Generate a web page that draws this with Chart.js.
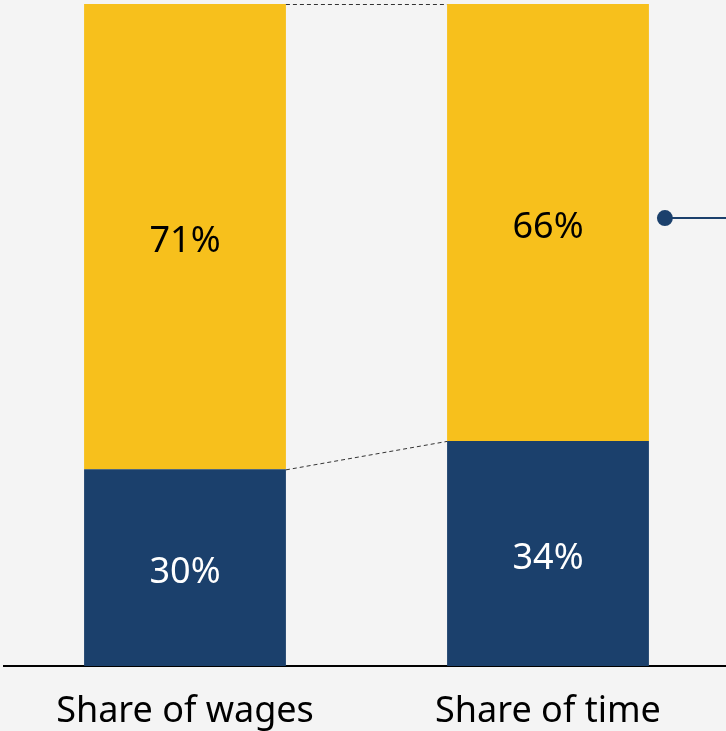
<!DOCTYPE html>
<html>
<head>
<meta charset="utf-8">
<script src="https://cdn.jsdelivr.net/npm/chart.js@4/dist/chart.umd.min.js"></script>
<style>
  html, body { margin: 0; padding: 0; background: #f4f4f4; overflow: hidden; }
  #wrap { position: relative; width: 730px; height: 731px; }
</style>
</head>
<body>
<div id="wrap"><canvas id="grafico" width="730" height="731"></canvas></div>
<script>
// categorias e percentuais
const categorias = ['Share of wages', 'Share of time'];
const parteAzul = [30, 34];
const parteAmarela = [71, 66];

const AZUL = '#1b406c';
const AMARELO = '#f7c01c';
const FONTE = '"Noto Sans", "Open Sans", sans-serif';

// cada barra vai até o topo (100% empilhado)
const totais = parteAzul.map((v, i) => v + parteAmarela[i]);
const azulNorm = parteAzul.map((v, i) => v / totais[i] * 100);
const amareloNorm = parteAmarela.map((v, i) => v / totais[i] * 100);

// rótulos dentro dos segmentos
const rotulosPlugin = {
    id: 'rotulos',
    afterDatasetsDraw(chart) {
        const ctx = chart.ctx;
        const brutos = [parteAzul, parteAmarela];
        const cores = ['#ffffff', '#000000'];
        ctx.save();
        ctx.font = '36px ' + FONTE;
        ctx.textAlign = 'center';
        ctx.textBaseline = 'middle';
        chart.data.datasets.forEach((ds, d) => {
            chart.getDatasetMeta(d).data.forEach((bar, i) => {
                ctx.fillStyle = cores[d];
                ctx.fillText(brutos[d][i] + '%', bar.x, (bar.y + bar.base) / 2 + 5);
            });
        });
        ctx.restore();
    }
};

// linhas tracejadas entre as barras e o marcador à direita
const conectoresPlugin = {
    id: 'conectores',
    afterDatasetsDraw(chart) {
        const ctx = chart.ctx;
        const azul = chart.getDatasetMeta(0).data;
        const amarelo = chart.getDatasetMeta(1).data;
        ctx.save();
        ctx.strokeStyle = '#333333';
        ctx.lineWidth = 1;
        ctx.setLineDash([4, 3]);
        [amarelo, azul].forEach(bars => {
            const a = bars[0], b = bars[1];
            ctx.beginPath();
            ctx.moveTo(a.x + a.width / 2, a.y + 0.5);
            ctx.lineTo(b.x - b.width / 2, b.y + 0.5);
            ctx.stroke();
        });
        ctx.setLineDash([]);

        const seg = amarelo[1];
        const mx = seg.x + seg.width / 2 + 16;
        const my = seg.y + (seg.base - seg.y) * 0.49;
        ctx.strokeStyle = AZUL;
        ctx.lineWidth = 2;
        ctx.beginPath();
        ctx.moveTo(mx, my);
        ctx.lineTo(chart.width, my);
        ctx.stroke();
        ctx.fillStyle = AZUL;
        ctx.beginPath();
        ctx.arc(mx, my, 8, 0, Math.PI * 2);
        ctx.fill();
        ctx.restore();
    }
};

new Chart(document.getElementById('grafico'), {
    type: 'bar',
    data: {
        labels: categorias,
        datasets: [
            { label: 'Azul', data: azulNorm, backgroundColor: AZUL, borderWidth: 0 },
            { label: 'Amarelo', data: amareloNorm, backgroundColor: AMARELO, borderWidth: 0 }
        ]
    },
    options: {
        responsive: false,
        animation: false,
        layout: { padding: { left: 3.5, right: 0.5, top: 4, bottom: 0 } },
        plugins: { legend: { display: false }, tooltip: { enabled: false } },
        datasets: { bar: { categoryPercentage: 1, barPercentage: 0.556 } },
        scales: {
            x: {
                stacked: true,
                grid: { display: false, drawTicks: false },
                border: { display: true, color: '#000000', width: 2 },
                ticks: { color: '#000000', font: { family: FONTE, size: 36 }, padding: 24 },
                afterFit(scale) { scale.height = 65; }
            },
            y: {
                stacked: true,
                display: false,
                min: 0,
                max: 100
            }
        }
    },
    plugins: [rotulosPlugin, conectoresPlugin]
});
</script>
</body>
</html>
